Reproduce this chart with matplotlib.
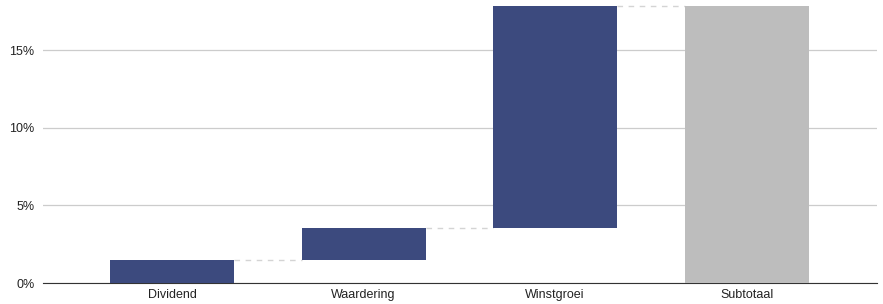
import matplotlib
matplotlib.use('Agg')
import matplotlib.pyplot as plt
from matplotlib.ticker import FuncFormatter

categories = ['Dividend', 'Waardering', 'Winstgroei', 'Subtotaal']
changes = [1.48, 2.06, 14.30]   # bijdrage per stap in %
subtotal = sum(changes)

plt.rcParams['font.family'] = ['Liberation Sans', 'DejaVu Sans']

fig = plt.figure(figsize=(8.83, 3.04), dpi=100)
ax = fig.add_axes([43/883, 21/304, 834/883, 282/304])

bottoms = []
level = 0
for c in changes:
    bottoms.append(level)
    level += c
heights = changes + [subtotal]
bottoms = bottoms + [0]
colors = ['#3c4a7e'] * len(changes) + ['#bdbdbd']

x = list(range(len(categories)))
w = 0.647
ax.bar(x, heights, bottom=bottoms, width=w, color=colors, zorder=3)

# stippellijnen tussen de balken
tops = [b + h for b, h in zip(bottoms, heights)]
for i in range(len(categories) - 1):
    ax.plot([i + w/2, i + 1 - w/2], [tops[i], tops[i]], color='#d4d4d4',
            linestyle=(0, (4, 4)), linewidth=1, zorder=2)

ax.set_xlim(-0.673, 3.68)
ax.set_ylim(0, 18.16)
ax.set_yticks([0, 5, 10, 15])
ax.yaxis.set_major_formatter(FuncFormatter(lambda v, p: f'{v:.0f}%'))
ax.set_xticks(x)
ax.set_xticklabels(categories)
ax.grid(axis='y', color='#cccccc', linewidth=0.9, zorder=0)
for s in ['top', 'right', 'left']:
    ax.spines[s].set_visible(False)
ax.spines['bottom'].set_color('#333333')
ax.tick_params(axis='both', length=0, labelsize=9, colors='#222222')
ax.tick_params(axis='y', pad=6)
ax.tick_params(axis='x', pad=4)

fig.savefig('out.png', dpi=100)
